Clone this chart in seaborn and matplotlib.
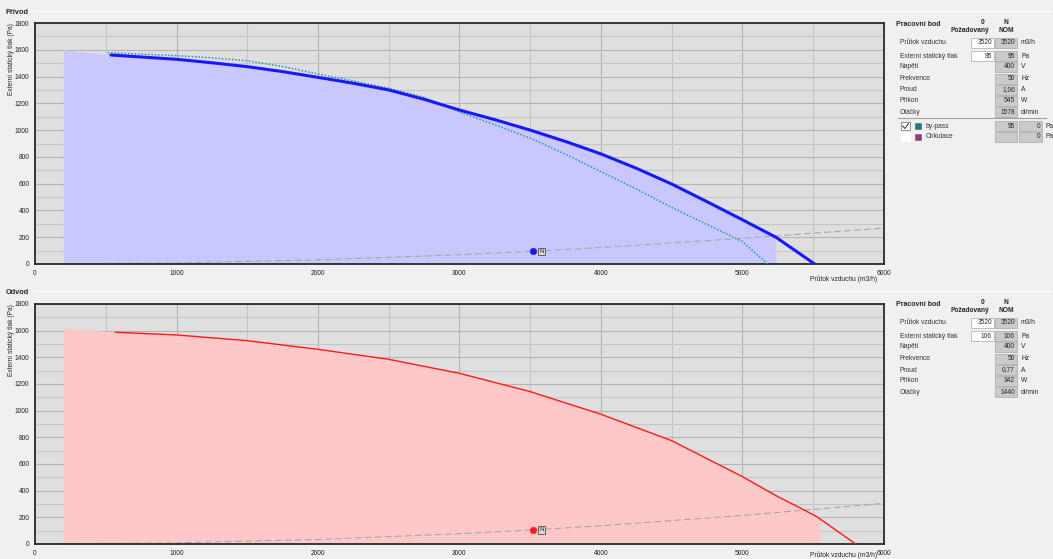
import matplotlib
matplotlib.use("Agg")
import matplotlib.pyplot as plt
from matplotlib.patches import Rectangle
from matplotlib.lines import Line2D
import seaborn as sns

# --- data ---
# supply (Přívod)
sup_flow = [536, 1000, 1250, 1500, 1750, 2000, 2250, 2500, 2750, 3000, 3250, 3500,
            3750, 4000, 4250, 4500, 4750, 5000, 5236, 5510]
sup_pa = [1561, 1529, 1503, 1474, 1437, 1394, 1350, 1300, 1230, 1150, 1078, 1000,
          915, 822, 715, 597, 465, 330, 200, 0]
byp_flow = [514, 1000, 1250, 1500, 1750, 2000, 2250, 2500, 2750, 3000, 3250, 3500,
            3750, 4000, 4250, 4500, 4750, 5000, 5180]
byp_pa = [1578, 1556, 1540, 1518, 1475, 1419, 1368, 1312, 1245, 1135, 1040, 939,
          820, 690, 560, 423, 295, 167, 0]
sup_fill_flow = [200, 536, 1000, 1250, 1500, 1750, 2000, 2250, 2500, 2750, 3000, 3250,
                 3500, 3750, 4000, 4250, 4500, 4750, 5000, 5236, 5236]
sup_fill_pa = [1600, 1561, 1529, 1503, 1474, 1437, 1394, 1350, 1300, 1230, 1150, 1078,
               1000, 915, 822, 715, 597, 465, 330, 200, 0]
sup_sys_flow = [0, 1000, 2000, 3000, 3520, 4000, 5000, 6000]
sup_sys_pa = [0, 8, 31, 69, 95, 123, 192, 268]
sup_point = (3520, 95)

# extract (Odvod)
ext_flow = [569, 1000, 1500, 2000, 2500, 3000, 3500, 4000, 4500, 5000, 5250, 5413,
            5525, 5800]
ext_pa = [1588, 1568, 1525, 1460, 1385, 1280, 1143, 973, 775, 505, 355, 268, 205, 0]
ext_fill_flow = [200, 569, 1000, 1500, 2000, 2500, 3000, 3500, 4000, 4500, 5000, 5250,
                 5413, 5550, 5550]
ext_fill_pa = [1622, 1588, 1568, 1525, 1460, 1385, 1280, 1143, 973, 775, 505, 355,
               268, 190, 0]
ext_sys_flow = [0, 1000, 2000, 3000, 3520, 4000, 5000, 6000]
ext_sys_pa = [0, 9, 34, 77, 106, 137, 214, 305]
ext_point = (3520, 106)

row_labels = ["Průtok vzduchu", "Externí statický tlak", "Napětí", "Frekvence",
              "Proud", "Příkon", "Otáčky"]
row_units = ["m3/h", "Pa", "V", "Hz", "A", "W", "ot/min"]
sup_req = ["3520", "95"]
sup_nom = ["3520", "95", "400", "50", "1,06", "545", "1578"]
ext_req = ["3520", "106"]
ext_nom = ["3520", "106", "400", "50", "0,77", "342", "1440"]

W, H = 1053, 559
sns.set_theme(style="white")
plt.rcParams['font.family'] = ['Liberation Sans', 'DejaVu Sans']
fig = plt.figure(figsize=(W / 100, H / 100), dpi=100, facecolor="#f0f0f0")
FS = 4.8


def fx(x):
    return x / W


def fy(y):
    return 1 - y / H


def chart(top, bottom, title, title_y, curve, fill, sysc, point, color, fillc,
          xlabel_y, extra=None):
    ax = fig.add_axes([fx(35), fy(bottom), (884 - 35) / W, (bottom - top) / H])
    ax.set_facecolor("#dfdfdf")
    ax.fill_between(fill[0], fill[1], 0, color=fillc, lw=0, zorder=1)
    sns.lineplot(x=sysc[0], y=sysc[1], ax=ax, color="#a8a8a8", lw=0.8,
                 linestyle=(0, (6, 3)), zorder=2)
    if extra is not None:
        sns.lineplot(x=extra[0], y=extra[1], ax=ax, color="#1f9a9a", lw=1.1,
                     linestyle=(0, (1, 1.2)), zorder=3)
    lw = 2.2 if extra is not None else 1.0
    sns.lineplot(x=curve[0], y=curve[1], ax=ax, color=color, lw=lw, zorder=4)
    sns.scatterplot(x=[point[0]], y=[point[1]], ax=ax, color=color, s=22,
                    edgecolor=color, zorder=5)
    ax.annotate("N", (point[0], point[1]), xytext=(6, 0), textcoords="offset points",
                fontsize=4.2, ha="center", va="center", zorder=6,
                bbox=dict(boxstyle="square,pad=0.2", fc="#d8d8d8", ec="#606060", lw=0.7))
    ax.set_xlim(0, 6000)
    ax.set_ylim(0, 1800)
    ax.set_xticks(range(0, 6001, 1000))
    ax.set_xticks(range(500, 6000, 1000), minor=True)
    ax.set_yticks(range(0, 1801, 200))
    ax.set_yticks(range(100, 1800, 200), minor=True)
    ax.grid(True, which="major", color="#b4b4b4", lw=0.8, zorder=0)
    ax.grid(True, which="minor", color="#c6c6c6", lw=0.8, zorder=0)
    ax.set_axisbelow(True)
    ax.tick_params(labelsize=FS, length=0, pad=4, colors="#222222")
    ax.tick_params(which="minor", length=0)
    for s in ax.spines.values():
        s.set_color("#2a2a2a")
        s.set_linewidth(1.3)
    ax.set_xlabel("")
    ax.set_ylabel("")
    fig.text(fx(877), fy(xlabel_y), "Průtok vzduchu (m3/h)", ha="right", va="bottom",
             fontsize=FS)
    ax.text(-0.028, 1.0, "Externí statický tlak (Pa)", transform=ax.transAxes,
            ha="center", va="top", rotation=90, fontsize=FS)
    fig.text(fx(6), fy(title_y), title, fontsize=5.3, fontweight="bold",
             ha="left", va="center")
    fig.add_artist(Line2D([fx(34), fx(1050)], [fy(title_y - 1), fy(title_y - 1)],
                          color="#ffffff", lw=0.8))
    return ax


def box(x0, x1, yc, fc):
    fig.add_artist(Rectangle((fx(x0), fy(yc + 5)), (x1 - x0) / W, 10 / H,
                             transform=fig.transFigure, fc=fc, ec="#a8a8a8", lw=0.5))


def panel(oy, req, nom, bypass):
    fig.text(fx(896), fy(oy + 24), "Pracovní bod", fontsize=5.0, fontweight="bold",
             va="center")
    fig.text(fx(983), fy(oy + 23), "0", fontsize=FS, fontweight="bold", ha="center", va="center")
    fig.text(fx(970), fy(oy + 31), "Požadovaný", fontsize=FS, fontweight="bold",
             ha="center", va="center")
    fig.text(fx(1006), fy(oy + 23), "N", fontsize=FS, fontweight="bold", ha="center", va="center")
    fig.text(fx(1006), fy(oy + 31), "NOM", fontsize=FS, fontweight="bold", ha="center", va="center")
    rows_y = [43, 56, 67, 78.5, 90, 101, 112]
    for i, lab in enumerate(row_labels):
        y = oy + rows_y[i]
        fig.text(fx(900), fy(y), lab, fontsize=FS, va="center", color="#333333")
        if i < len(req):
            box(971, 994, y, "#ffffff")
            fig.text(fx(992), fy(y), req[i], fontsize=FS, ha="right", va="center")
        box(995, 1017, y, "#cacaca")
        fig.text(fx(1015), fy(y), nom[i], fontsize=FS, ha="right", va="center")
        fig.text(fx(1021), fy(y), row_units[i], fontsize=FS, va="center")
    if bypass:
        fig.add_artist(Line2D([fx(898), fx(1046)], [fy(oy + 118), fy(oy + 118)],
                              color="#a0a0a0", lw=0.8))
        for y, name, sq, checked, val in [(126, "by-pass", "#108080", True, "95"),
                                          (137, "Cirkulace", "#a03080", False, "")]:
            yy = oy + y
            fig.add_artist(Rectangle((fx(901), fy(yy + 4)), 9 / W, 8 / H,
                                     transform=fig.transFigure, fc="#ffffff",
                                     ec="#808080" if checked else "#ffffff", lw=0.6))
            if checked:
                fig.add_artist(Line2D([fx(902.5), fx(905), fx(908.5)],
                                      [fy(yy), fy(yy + 2.5), fy(yy - 2.5)],
                                      color="#333333", lw=0.7))
            fig.add_artist(Rectangle((fx(915), fy(yy + 3)), 6 / W, 6 / H,
                                     transform=fig.transFigure, fc=sq, ec="#606060", lw=0.4))
            fig.text(fx(926), fy(yy), name, fontsize=FS, va="center", color="#333333")
            box(995, 1017, yy, "#cacaca")
            fig.text(fx(1015), fy(yy), val, fontsize=FS, ha="right", va="center")
            box(1019, 1042, yy, "#cacaca")
            fig.text(fx(1040), fy(yy), "0", fontsize=FS, ha="right", va="center")
            fig.text(fx(1045), fy(yy), "Pa", fontsize=FS, va="center")


chart(23, 264, "Přívod", 12, (sup_flow, sup_pa), (sup_fill_flow, sup_fill_pa),
      (sup_sys_flow, sup_sys_pa), sup_point, "#1818ff", "#c8c8ff", 283,
      extra=(byp_flow, byp_pa))
chart(304, 544, "Odvod", 292, (ext_flow, ext_pa), (ext_fill_flow, ext_fill_pa),
      (ext_sys_flow, ext_sys_pa), ext_point, "#ff1818", "#ffc8c8", 559)
panel(0, sup_req, sup_nom, True)
panel(280, ext_req, ext_nom, False)

fig.savefig("out.png", dpi=100, facecolor=fig.get_facecolor())
